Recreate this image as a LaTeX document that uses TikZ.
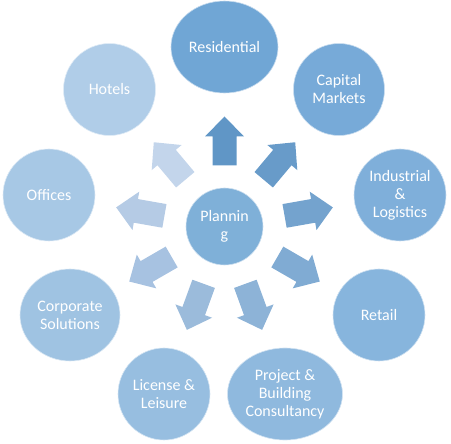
\documentclass[tikz,border=0pt]{standalone}
\usepackage{fontspec}
\setmainfont{Carlito}
\usetikzlibrary{shapes.geometric}
\definecolor{sect1}{RGB}{112,166,213}
\definecolor{sect2}{RGB}{119,170,216}
\definecolor{sect3}{RGB}{127,175,218}
\definecolor{sect4}{RGB}{135,181,221}
\definecolor{sect5}{RGB}{143,185,222}
\definecolor{sect6}{RGB}{151,190,224}
\definecolor{sect7}{RGB}{159,195,226}
\definecolor{sect8}{RGB}{167,200,229}
\definecolor{sect9}{RGB}{176,205,232}
\definecolor{hubblue}{RGB}{127,176,216}
\definecolor{arr1}{RGB}{96,150,198}
\definecolor{arr2}{RGB}{104,155,201}
\definecolor{arr3}{RGB}{116,163,206}
\definecolor{arr4}{RGB}{128,171,211}
\definecolor{arr5}{RGB}{141,179,215}
\definecolor{arr6}{RGB}{155,187,219}
\definecolor{arr7}{RGB}{167,194,225}
\definecolor{arr8}{RGB}{181,203,229}
\definecolor{arr9}{RGB}{195,213,235}
\tikzset{
  sector/.style={ellipse, draw=white!60!#1, line width=0.6pt, fill=#1, text=white,
                 inner sep=0pt, align=center, font=\fontsize{16}{18}\selectfont},
  hub/.style={sector=hubblue, minimum size=77pt},
}

\begin{document}
\begin{tikzpicture}[x=1pt, y=1pt]
\useasboundingbox (0,0) rectangle (451,-444);
\node[hub] (plan) at (224.5,-226.5) {Plannin\\g};

\node[sector=sect1, minimum width=107pt, minimum height=92pt] (resi) at (224.5,-47) {Residential};
\node[sector=sect2, minimum width=91pt, minimum height=92pt] (capm) at (339,-89.5) {Capital\\Markets};
\node[sector=sect3, minimum width=92pt, minimum height=92pt] (indu) at (400,-195) {Industrial\\\&\\Logistics};
\node[sector=sect4, minimum width=92pt, minimum height=92pt] (reta) at (379,-315) {Retail};
\node[sector=sect5, minimum width=115pt, minimum height=92pt] (proj) at (285,-394) {Project \&\\Building\\Consultancy};
\node[sector=sect6, minimum width=92pt, minimum height=92pt] (lice) at (164,-394) {License \&\\Leisure};
\node[sector=sect7, minimum width=100pt, minimum height=92pt] (corp) at (70,-315) {Corporate\\Solutions};
\node[sector=sect8, minimum width=92pt, minimum height=92pt] (offi) at (49,-195) {Offices};
\node[sector=sect9, minimum width=92pt, minimum height=92pt] (hote) at (109.5,-89.5) {Hotels};

% block arrows out of the hub
\foreach \ang/\col in {90/arr1, 50/arr2, 10/arr3, -30/arr4, -70/arr5,
                       -110/arr6, -150/arr7, -190/arr8, -230/arr9}
  \fill[\col, shift={(plan.center)}, rotate=\ang]
    (61,-12) -- (90,-12) -- (90,-19.5) -- (110,0) -- (90,19.5) -- (90,12) -- (61,12) -- cycle;
\end{tikzpicture}
\end{document}
